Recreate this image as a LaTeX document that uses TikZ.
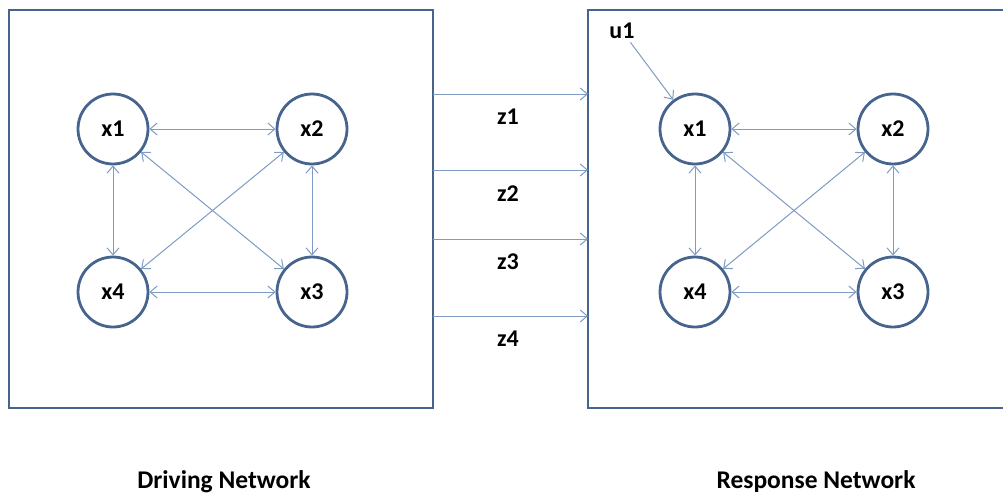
\documentclass[tikz,border=0pt]{standalone}
\usepackage{fontspec}
\setmainfont{Carlito}
\usepackage{tikz}
\usetikzlibrary{arrows.meta}

\definecolor{frameblue}{HTML}{46648E}
\definecolor{linkblue}{HTML}{7E9BC3}

\tikzset{
  netbox/.style={draw=frameblue, line width=2.5pt, outer sep=0pt, minimum width=#1, minimum height=398pt},
  circ/.style={circle, draw=frameblue, line width=2.8pt, minimum size=70pt, inner sep=0pt,
    font=\fontsize{24}{28}\selectfont\bfseries},
  link/.style={draw=linkblue, line width=1pt, {Straight Barb[length=7pt,width=12pt]}-{Straight Barb[length=7pt,width=12pt]}},
  feed/.style={draw=linkblue, line width=1pt, -{Straight Barb[length=7pt,width=12pt]}},
  lbl/.style={font=\fontsize{24}{28}\selectfont\bfseries},
  caption/.style={font=\fontsize{25.5}{30}\selectfont\bfseries, anchor=base}
}

\begin{document}
\begin{tikzpicture}[x=1pt,y=-1pt]
\useasboundingbox (0,0) rectangle (1003,495);
% the two boxes
\node[netbox=424pt] (lnet) at (221,209) {};
\node[netbox=425pt] (rnet) at (800.5,209) {};
% driving network
\node[circ] (a1) at (113,129) {x1};
\node[circ] (a2) at (312,129) {x2};
\node[circ] (a3) at (312,292) {x3};
\node[circ] (a4) at (113,292) {x4};
\draw[link] (a1) -- (a2);
\draw[link] (a4) -- (a3);
\draw[link] (a1) -- (a4);
\draw[link] (a2) -- (a3);
\draw[link] (a1) -- (a3);
\draw[link] (a2) -- (a4);
% response network
\node[circ] (b1) at (695,129) {x1};
\node[circ] (b2) at (893,129) {x2};
\node[circ] (b3) at (893,292) {x3};
\node[circ] (b4) at (695,292) {x4};
\draw[link] (b1) -- (b2);
\draw[link] (b4) -- (b3);
\draw[link] (b1) -- (b4);
\draw[link] (b2) -- (b3);
\draw[link] (b1) -- (b3);
\draw[link] (b2) -- (b4);
\node[lbl] (u1) at (622,31) {u1};
\draw[feed] (u1) -- (b1);
% coupling signals
\draw[feed] (lnet.east |- 0,94) -- (rnet.west |- 0,94);
\draw[feed] (lnet.east |- 0,170) -- (rnet.west |- 0,170);
\draw[feed] (lnet.east |- 0,239) -- (rnet.west |- 0,239);
\draw[feed] (lnet.east |- 0,316) -- (rnet.west |- 0,316);
\node[lbl] (z1) at (508,117) {z1};
\node[lbl] (z2) at (508,194) {z2};
\node[lbl] (z3) at (508,262) {z3};
\node[lbl] (z4) at (508,339) {z4};
% captions
\node[caption] (dnet) at (224,488) {Driving Network};
\node[caption] (resp) at (816,488) {Response Network};
\end{tikzpicture}
\end{document}
